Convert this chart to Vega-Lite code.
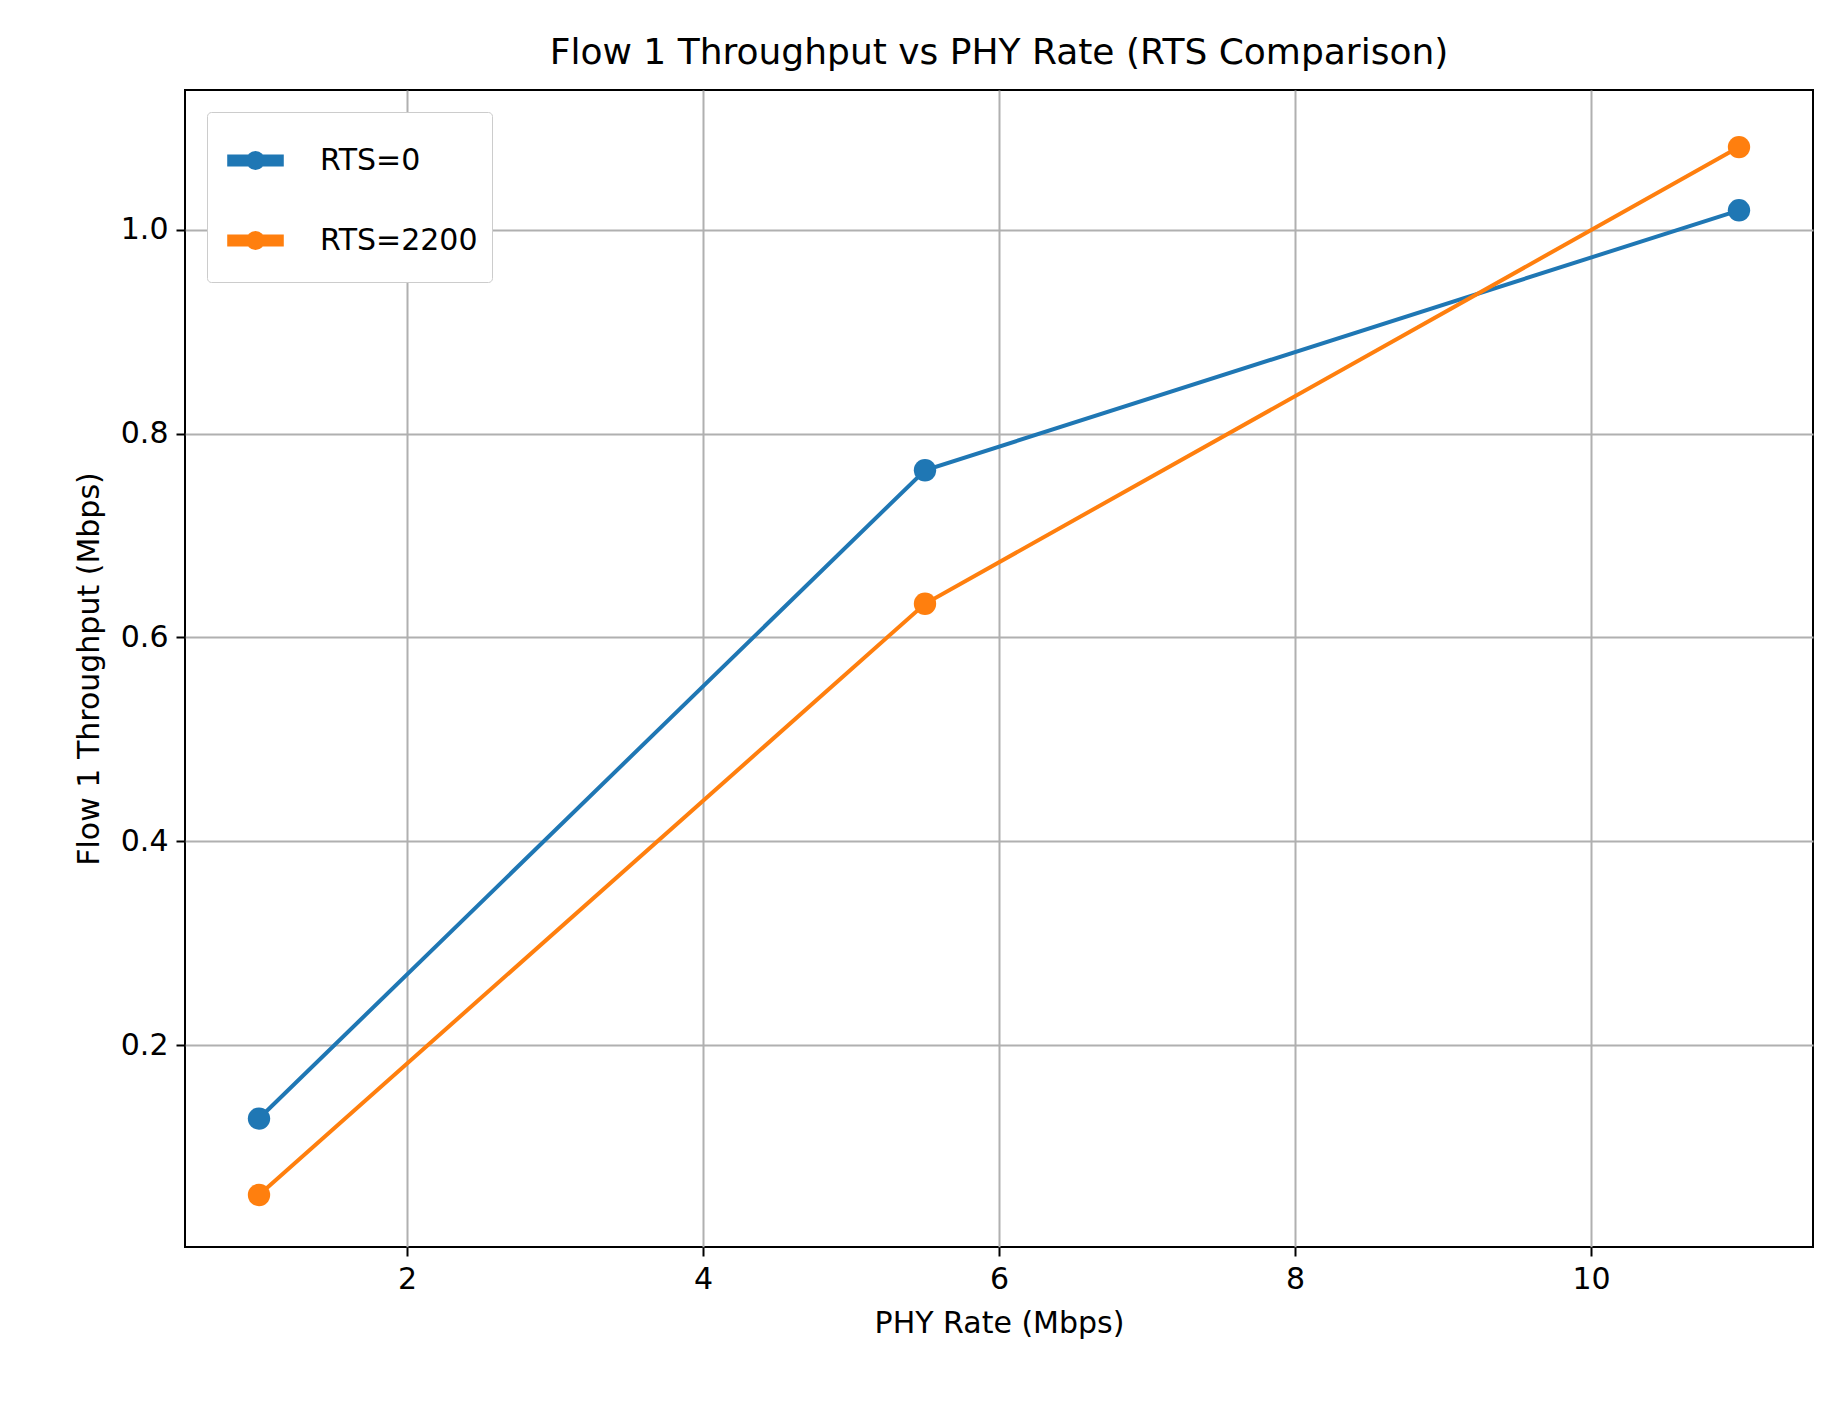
{
  "$schema": "https://vega.github.io/schema/vega-lite/v6.json",
  "autosize": {"type": "none"},
  "padding": {"left": 185, "top": 90, "right": 28, "bottom": 160},
  "width": 1628,
  "height": 1157,
  "background": "white",
  "config": {
    "font": "DejaVu Sans",
    "view": {"stroke": "black", "strokeWidth": 2},
    "axis": {
      "labelFont": "DejaVu Sans", "titleFont": "DejaVu Sans",
      "labelFontSize": 30, "titleFontSize": 30, "labelColor": "black", "titleColor": "black",
      "titleFontWeight": "normal", "domain": false, "tickColor": "black", "tickSize": 9, "tickWidth": 2,
      "gridColor": "#b0b0b0", "gridWidth": 2, "labelPadding": 8
    }
  },
  "title": {"text": "Flow 1 Throughput vs PHY Rate (RTS Comparison)", "fontSize": 36, "fontWeight": "normal", "font": "DejaVu Sans", "offset": 18},
  "data": {"values": [
    {"rate": 1, "tput": 0.128, "series": "RTS=0"},
    {"rate": 5.5, "tput": 0.764, "series": "RTS=0"},
    {"rate": 11, "tput": 1.019, "series": "RTS=0"},
    {"rate": 1, "tput": 0.053, "series": "RTS=2200"},
    {"rate": 5.5, "tput": 0.633, "series": "RTS=2200"},
    {"rate": 11, "tput": 1.081, "series": "RTS=2200"}
  ]},
  "mark": {"type": "line", "point": {"size": 500, "opacity": 1, "filled": true}, "strokeWidth": 4},
  "encoding": {
    "x": {"field": "rate", "type": "quantitative", "title": "PHY Rate (Mbps)",
      "scale": {"domain": [0.5, 11.5], "nice": false, "zero": false},
      "axis": {"values": [2, 4, 6, 8, 10], "titlePadding": 14}},
    "y": {"field": "tput", "type": "quantitative", "title": "Flow 1 Throughput (Mbps)",
      "scale": {"domain": [0.002, 1.137], "nice": false, "zero": false},
      "axis": {"values": [0.2, 0.4, 0.6, 0.8, 1.0], "format": ".1f", "titlePadding": 16}},
    "color": {"field": "series", "type": "nominal", "title": null,
      "scale": {"domain": ["RTS=0", "RTS=2200"], "range": ["#1f77b4", "#ff7f0e"]},
      "legend": {"orient": "top-left", "offset": 22, "labelFontSize": 30, "labelFont": "DejaVu Sans",
        "symbolType": "M-1,0H1M-0.12,0a0.12,0.12 0 1,0 0.24,0a0.12,0.12 0 1,0 -0.24,0",
        "symbolSize": 3200, "symbolStrokeWidth": 12, "rowPadding": 18,
        "strokeColor": "#cccccc", "fillColor": "white", "padding": 14, "cornerRadius": 4, "labelOffset": 30}}
  }
}
